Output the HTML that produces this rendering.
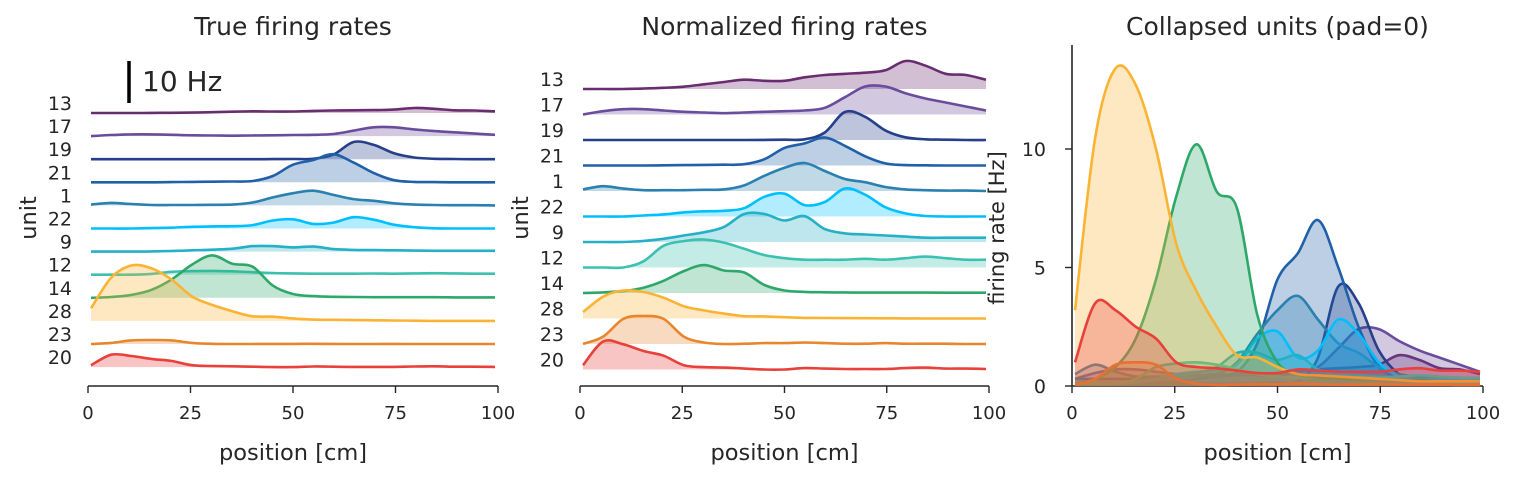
<!DOCTYPE html>
<html><head><meta charset="utf-8"><style>
body{margin:0;background:#fff;}
svg{font-family:"DejaVu Sans","Liberation Sans",sans-serif;}
</style></head><body>
<svg id="fig" width="1517" height="479" viewBox="0 0 1517 479"></svg>
<script>
const positions=[0,5,10,15,20,25,30,35,40,45,50,55,60,65,70,75,80,85,90,95,100];
const unitLabels=["13","17","19","21","1","22","9","12","14","28","23","20"];
const unitColors=["#6a2c70","#6a4c9c","#253f8a","#2060a8","#2a80b0","#00bfff","#25b0c5","#3cc0b0","#2ea86a","#fbb334","#e8862f","#e8403a"];
const rate13=[0.1,0.1,0.1,0.12,0.15,0.2,0.3,0.4,0.5,0.45,0.45,0.6,0.7,0.75,0.8,0.9,1.3,1.1,0.75,0.7,0.5];
const rate17=[0.3,0.55,0.7,0.7,0.6,0.5,0.45,0.4,0.45,0.5,0.55,0.6,0.8,1.6,2.4,2.4,1.9,1.5,1.2,0.9,0.6];
const rate19=[0.1,0.1,0.1,0.1,0.1,0.1,0.1,0.1,0.1,0.12,0.15,0.2,1.2,4.2,3.5,1.5,0.5,0.2,0.15,0.1,0.1];
const rate21=[0.3,0.3,0.3,0.3,0.35,0.4,0.45,0.5,0.6,1.8,4.5,5.6,7.0,5.0,2.5,0.8,0.4,0.35,0.3,0.3,0.3];
const rate1=[0.5,0.9,0.6,0.4,0.4,0.4,0.45,0.5,1.0,2.2,3.2,3.8,2.8,1.8,1.4,0.8,0.5,0.4,0.35,0.35,0.3];
const rate22=[0.1,0.1,0.1,0.2,0.3,0.5,0.6,0.65,0.9,2.0,2.3,1.2,1.5,2.8,2.2,1.0,0.4,0.15,0.1,0.1,0.1];
const rate9=[0.1,0.1,0.1,0.15,0.25,0.4,0.55,0.8,1.4,1.4,1.1,1.3,0.7,0.5,0.45,0.4,0.35,0.3,0.3,0.3,0.3];
const rate12=[0.1,0.1,0.1,0.3,0.8,0.95,1.0,0.9,0.7,0.5,0.4,0.35,0.35,0.35,0.38,0.35,0.4,0.45,0.4,0.35,0.35];
const rate14=[0.1,0.3,0.8,2.0,4.5,8.0,10.2,8.2,7.5,3.0,1.0,0.5,0.35,0.3,0.25,0.25,0.25,0.25,0.2,0.2,0.2];
const rate28=[3.2,10.5,13.4,12.7,10.0,6.0,4.0,2.5,1.3,1.2,0.8,0.5,0.45,0.4,0.35,0.3,0.25,0.2,0.2,0.2,0.2];
const rate23=[0.05,0.3,0.9,1.0,0.9,0.3,0.1,0.05,0.06,0.08,0.08,0.1,0.08,0.06,0.06,0.08,0.06,0.06,0.06,0.05,0.05];
const rate20=[1.0,3.5,3.2,2.5,2.0,1.0,0.8,0.75,0.65,0.55,0.55,0.7,0.65,0.6,0.6,0.6,0.7,0.75,0.65,0.65,0.6];
const xTicks=[0,25,50,75,100];
const yTicks=[0,5,10];

const rates=[rate13,rate17,rate19,rate21,rate1,rate22,rate9,rate12,rate14,rate28,rate23,rate20];
const NS="http://www.w3.org/2000/svg";
const svg=document.getElementById("fig");
function mk(tag,attrs,parent){const e=document.createElementNS(NS,tag);for(const k in attrs)e.setAttribute(k,attrs[k]);(parent||svg).appendChild(e);return e;}
function txt(x,y,s,size,anchor,parent,name){const t=mk("text",{x:x,y:y,"font-size":size,"text-anchor":anchor||"middle",fill:"#262626"},parent);t.textContent=s;


return t;}
function smooth(pts){
 let d="M"+pts[0][0].toFixed(1)+","+pts[0][1].toFixed(1);
 for(let i=0;i<pts.length-1;i++){
  const p0=pts[Math.max(0,i-1)],p1=pts[i],p2=pts[i+1],p3=pts[Math.min(pts.length-1,i+2)];
  const c1x=p1[0]+(p2[0]-p0[0])/6,c1y=p1[1]+(p2[1]-p0[1])/6;
  const c2x=p2[0]-(p3[0]-p1[0])/6,c2y=p2[1]-(p3[1]-p1[1])/6;
  d+="C"+c1x.toFixed(1)+","+c1y.toFixed(1)+" "+c2x.toFixed(1)+","+c2y.toFixed(1)+" "+p2[0].toFixed(1)+","+p2[1].toFixed(1);
 }
 return d;
}

const panels=[
 {x0:88,x1:498,title:"True firing rates",mode:"true",base0:113,step:23.1,scale:4.2,labx:72},
 {x0:580,x1:989,title:"Normalized firing rates",mode:"norm",base0:89,step:25.5,scale:28,labx:564},
 {x0:1072,x1:1483,title:"Collapsed units (pad=0)",mode:"coll",y0:386,ppu:23.7}
];
panels.forEach((p,pi)=>{
 const g=mk("g",{});
 
 
 const xs=v=>p.x0+3+(v/100)*(p.x1-p.x0-6);
 txt((p.x0+p.x1)/2,35,p.title,25,"middle",g,"panel-title");
 const ax=mk("line",{x1:p.x0,x2:p.x1,y1:386,y2:386,stroke:"#262626","stroke-width":1.6},g);
 
 
 xTicks.forEach(t=>{
  const tx=p.x0+(t/100)*(p.x1-p.x0);
  const tl=mk("line",{x1:tx,x2:tx,y1:386,y2:393,stroke:"#262626","stroke-width":1.4},g);
  
  
  txt(tx,419,String(t),18,"middle",g,"x-tick-label");
 });
 txt((p.x0+p.x1)/2,460,"position [cm]",22.5,"middle",g,"x-axis-title");
 const order=rates.map((r,i)=>i);
 order.forEach(i=>{
  const r=rates[i];const mn=Math.min(...r),mx=Math.max(...r);
  let ys,yb;
  if(p.mode==="true"){const b=p.base0+i*p.step;ys=v=>b-(v-mn)*p.scale;yb=b;}
  else if(p.mode==="norm"){const b=p.base0+i*p.step;ys=v=>b-(v-mn)/(mx-mn)*p.scale;yb=b;}
  else{ys=v=>p.y0-v*p.ppu;yb=p.y0;}
  const pts=r.map((v,k)=>[xs(positions[k]),ys(v)]);
  const d=smooth(pts);
  const fd=d+"L"+xs(positions[positions.length-1])+","+yb+"L"+xs(positions[0])+","+yb+"Z";
  const f=mk("path",{d:fd,fill:unitColors[i],"fill-opacity":0.3,stroke:"none"},g);
  
  
  const l=mk("path",{d:d,fill:"none",stroke:unitColors[i],"stroke-width":2.6,"stroke-linejoin":"round"},g);
  
  
  if(p.mode!=="coll"){txt(p.labx,p.base0+i*p.step-3,unitLabels[i],19,"end",g,"unit-label");}
 });
 if(p.mode!=="coll"){
  const ut=txt(0,0,"unit",22.5,"middle",g,"y-axis-title");
  ut.setAttribute("transform","translate("+(pi===0?36:528)+",218) rotate(-90)");
 }else{
  const yax=mk("line",{x1:p.x0,x2:p.x0,y1:45,y2:386,stroke:"#262626","stroke-width":1.6},g);
  
  
  yTicks.forEach(t=>{
   const yy=p.y0-t*p.ppu;
   const tl=mk("line",{x1:p.x0-7,x2:p.x0,y1:yy,y2:yy,stroke:"#262626","stroke-width":1.4},g);
   
   
   txt(p.x0-26,yy+7,String(t),19,"end",g,"y-tick-label");
  });
  const yt=txt(0,0,"firing rate [Hz]",21,"middle",g,"y-axis-title");
  yt.setAttribute("transform","translate(1004,228) rotate(-90)");
 }
});
const sb=mk("line",{x1:129,x2:129,y1:61,y2:103,stroke:"#000","stroke-width":3.5});


txt(142,91,"10 Hz",28,"start",svg,"scale-bar-label");
</script>
</body></html>
